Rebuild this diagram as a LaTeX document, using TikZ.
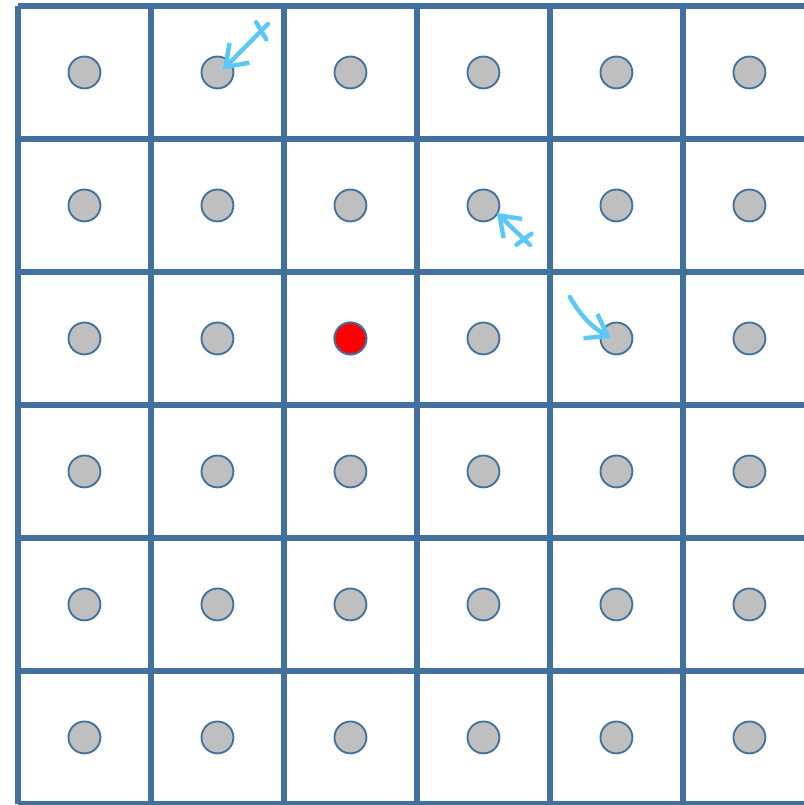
\documentclass[tikz,border=0pt]{standalone}
\usepackage{tikz}
\usetikzlibrary{arrows.meta,calc}
\definecolor{gridblue}{RGB}{65,113,156}
\definecolor{dotgray}{RGB}{191,191,191}
\definecolor{sketchblue}{RGB}{92,200,250}
\begin{document}
\begin{tikzpicture}[x=2cm,y=2cm,
		gridline/.style={draw=gridblue, line width=2.6pt},
		dot/.style={circle, draw=gridblue, line width=0.8pt, fill=dotgray, minimum size=0.48cm, inner sep=0pt},
		hop/.style={draw=sketchblue, line width=1.9pt, line cap=round, line join=round}]
		\useasboundingbox (-0.135,-0.008) rectangle (5.91,6.045);
		\clip (-0.135,-0.008) rectangle (5.91,6.045);
		\draw[gridline, step=2cm] (0,0) grid (6,6);
		\foreach \i in {0,...,5}
			\foreach \j in {0,...,5}
				\node[dot] (c-\i-\j) at (\i+0.5,\j+0.5) {};
		\node[dot, fill=red] (src) at (2.5,3.5) {};
		% sketched moves
		\coordinate (t1) at (1.88,5.865);
		\coordinate (h1) at (1.54,5.52);
		\coordinate (t2) at (3.85,4.203);
		\coordinate (h2) at (3.60,4.444);
		\coordinate (t3) at (4.15,3.812);
		\coordinate (h3) at (4.46,3.504);
		\coordinate (m1) at ($(t1)!0.15!(h1)$);
		\coordinate (m2) at ($(t2)!0.18!(h2)$);
		\draw[hop, -{Straight Barb[length=0.3cm, width=0.42cm]}] (t1) -- (h1);
		\draw[hop] ($(m1)!0.15cm!75:(t1)$) -- ($(m1)!0.15cm!-105:(t1)$);
		\draw[hop, -{Straight Barb[length=0.28cm, width=0.4cm]}] (t2) -- (h2);
		\draw[hop] ($(m2)!0.14cm!80:(t2)$) -- ($(m2)!0.14cm!-100:(t2)$);
		\draw[hop, -{Straight Barb[length=0.3cm, width=0.42cm]}] (t3) to[bend right=15] (h3);
	\end{tikzpicture}
\end{document}
